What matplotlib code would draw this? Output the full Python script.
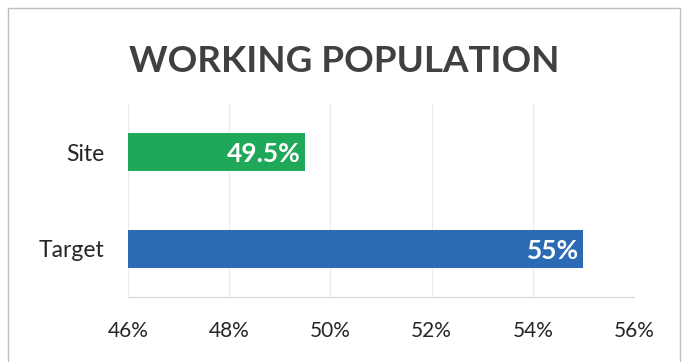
import matplotlib.pyplot as plt
from matplotlib.patches import Rectangle

categories = ['Target', 'Site']
values = [55, 49.5]
labels = ['55%', '49.5%']
colors = ['#2b6bb5', '#1fa85a']
ticks = [46, 48, 50, 52, 54, 56]

plt.rcParams['font.family'] = ['Lato', 'DejaVu Sans']

fig = plt.figure(figsize=(6.82, 3.62), dpi=100)
ax = fig.add_axes([128 / 682, 1 - 297 / 362, (634 - 128) / 682, (297 - 104) / 362])

ax.barh(range(len(categories)), [v - 46 for v in values], left=46,
        height=0.39, color=colors, zorder=3)
for i, (v, lab) in enumerate(zip(values, labels)):
    ax.text(v - 0.08, i - 0.02, lab, ha='right', va='center', color='white',
            fontsize=19, fontweight='bold', zorder=4)

ax.set_xlim(46, 56)
ax.set_ylim(-0.5, 1.5)
ax.set_xticks(ticks)
ax.set_xticklabels([f'{t}%' for t in ticks], fontsize=15, color='#262626')
ax.set_yticks(range(len(categories)))
ax.set_yticklabels(categories, fontsize=16.5, color='#262626')
ax.tick_params(length=0)
ax.tick_params(axis='x', pad=17)
ax.tick_params(axis='y', pad=17)
ax.grid(axis='x', color='#ececec', linewidth=0.8, zorder=0)
for s in ['top', 'right', 'left']:
    ax.spines[s].set_visible(False)
ax.spines['bottom'].set_color('#d9d9d9')

fig.text(344 / 682, 1 - 61 / 362, 'WORKING POPULATION', ha='center', va='center',
         fontsize=26.5, fontweight='bold', color='#404040')

fig.patches.append(Rectangle((8 / 682, -0.01), 672 / 682, 1 - 8 / 362 + 0.01,
                             transform=fig.transFigure, fill=False,
                             edgecolor='#bfbfbf', linewidth=1))

fig.savefig('out.png', dpi=100)
